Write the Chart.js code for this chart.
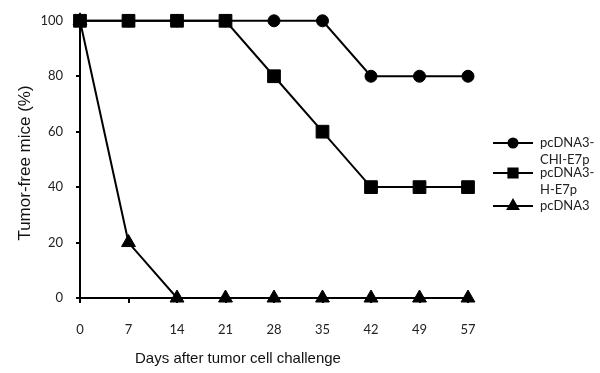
<!DOCTYPE html>
<html>
<head>
<meta charset="utf-8">
<script src="https://cdn.jsdelivr.net/npm/chart.js@4.4.1/dist/chart.umd.min.js"></script>
<style>
html,body{margin:0;padding:0;background:#fff;}
#wrap{width:600px;height:373px;position:relative;}
</style>
</head>
<body>
<div id="wrap"><canvas id="c" width="600" height="373"></canvas></div>
<script>
const days = ['0','7','14','21','28','35','42','49','57'];
const chiE7p = [100,100,100,100,100,100,80,80,80];
const hE7p = [100,100,100,100,80,60,40,40,40];
const pcDNA3 = [100,20,0,0,0,0,0,0,0];
const yTicks = [0,20,40,60,80,100];
const seriesNames = [['pcDNA3-','CHI-E7p'],['pcDNA3-','H-E7p'],['pcDNA3']];
const xTitle = 'Days after tumor cell challenge';
const yTitle = 'Tumor-free mice (%)';

const tickFont = {family:'Lato', size:13};

const annotPlugin = {
  id:'customLegendAndTitles',
  afterDraw(chart){
    const ctx = chart.ctx;
    const entries = [
      {y:143, style:'circle', r:4.5, lines:seriesNames[0]},
      {y:173, style:'rect', r:6.5, lines:seriesNames[1]},
      {y:206, style:'triangle', r:6, lines:seriesNames[2]}
    ];
    ctx.save();
    entries.forEach(e=>{
      ctx.strokeStyle='#000'; ctx.lineWidth=2;
      ctx.beginPath(); ctx.moveTo(493,e.y); ctx.lineTo(533,e.y); ctx.stroke();
      ctx.fillStyle='#000';
      Chart.helpers.drawPoint(ctx,{pointStyle:e.style,radius:e.r,borderWidth:1,rotation:0},513,e.y);
      ctx.fill();
      ctx.font = '13px Lato';
      ctx.textBaseline='middle'; ctx.textAlign='left';
      ctx.fillStyle='#222';
      e.lines.forEach((t,i)=>ctx.fillText(t,540,e.y+i*17));
    });
    // axis titles
    ctx.fillStyle='#111';
    ctx.textAlign='center'; ctx.textBaseline='middle';
    ctx.font='15px "Liberation Sans"';
    ctx.fillText(xTitle,238,359);
    ctx.translate(25,163);
    ctx.rotate(-Math.PI/2);
    ctx.font='17px "Liberation Sans"';
    ctx.fillText(yTitle,0,0);
    ctx.restore();
  }
};

const common = {borderColor:'#000', backgroundColor:'#000', pointBorderColor:'#000', pointBackgroundColor:'#000', borderWidth:2, tension:0, clip:false, pointBorderWidth:1};

new Chart(document.getElementById('c'),{
  type:'line',
  data:{
    labels:days,
    datasets:[
      Object.assign({label:seriesNames[1].join(''), data:hE7p, pointStyle:'rect', pointRadius:9, order:0}, common),
      Object.assign({label:seriesNames[0].join(''), data:chiE7p, pointStyle:'circle', pointRadius:6, order:1}, common),
      Object.assign({label:seriesNames[2].join(''), data:pcDNA3, pointStyle:'triangle', pointRadius:8, order:2}, common)
    ]
  },
  options:{
    responsive:false,
    animation:false,
    events:[],
    layout:{padding:{left:0,right:132,top:19,bottom:0}},
    plugins:{legend:{display:false}, tooltip:{enabled:false}},
    scales:{
      x:{
        type:'category',
        offset:false,
        grid:{display:true, drawOnChartArea:false, drawTicks:true, tickLength:5, color:'#000', lineWidth:2},
        border:{display:true, color:'#000', width:2},
        ticks:{font:tickFont, color:'#222', padding:19, maxRotation:0, autoSkip:false},
        title:{display:false},
        afterFit(s){ s.height = 75; }
      },
      y:{
        min:0, max:100,
        afterBuildTicks(s){ s.ticks = yTicks.map(v=>({value:v})); },
        grid:{display:true, drawOnChartArea:false, drawTicks:true, tickLength:4, color:'#000', lineWidth:2},
        border:{display:true, color:'#000', width:2},
        ticks:{font:tickFont, color:'#222', padding:13},
        title:{display:false},
        afterFit(s){ s.width = 80; }
      }
    }
  },
  plugins:[annotPlugin]
});
</script>
</body>
</html>
